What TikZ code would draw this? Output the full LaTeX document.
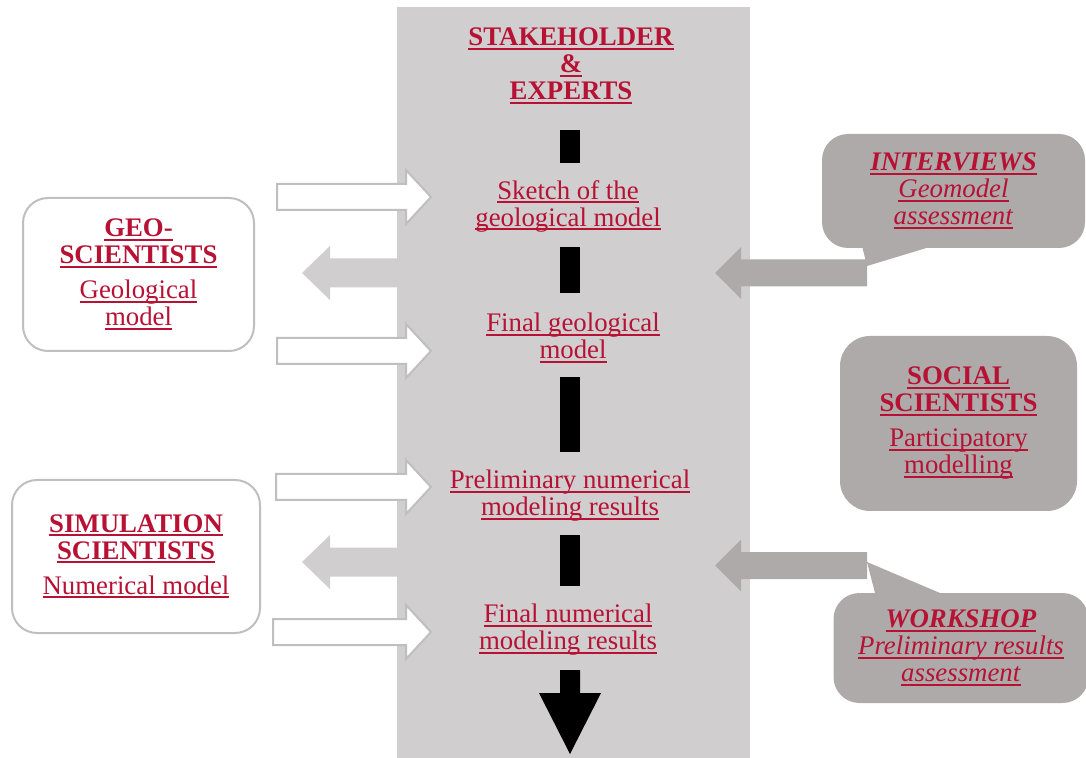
\documentclass[tikz,border=0pt]{standalone}
\usepackage{fontspec}
\setmainfont{Liberation Serif}
\usepackage{xcolor}
\usepackage{tikz}
\usetikzlibrary{positioning}

\definecolor{wine}{RGB}{183,17,52}
\definecolor{panelgray}{RGB}{208,206,207}
\definecolor{darkgray}{RGB}{174,170,170}
\definecolor{linegray}{RGB}{191,191,191}

\newsavebox{\ulbox}
\newcommand{\ul}[1]{\sbox{\ulbox}{#1}\rlap{\rule[-2pt]{\wd\ulbox}{1pt}}\usebox{\ulbox}}

\begin{document}
\begin{tikzpicture}[x=0.5pt,y=-0.5pt]

\tikzset{txt/.style={align=center, text=wine, inner sep=0pt, font=\fontsize{13.4}{13.5}\selectfont},
scibox/.style={txt, rounded corners=12.5pt, draw=linegray, line width=1pt, fill=white},
talkbox/.style={txt, rounded corners=13pt, fill=darkgray}}

\useasboundingbox (0,0) rectangle (1086,758);

%the stakeholder column
\fill[panelgray] (397,7) rectangle (750,758);

\node[txt] (title) at (571,66) {\ul{\textbf{STAKEHOLDER}}\\\ul{\textbf{\&}}\\\ul{\textbf{EXPERTS}}};
\node[txt] (sketch) at (568,206) {\ul{Sketch of the}\\\ul{geological model}};
\node[txt] (finalgeo) at (573,338) {\ul{Final geological}\\\ul{model}};
\node[txt] (prelim) at (570,496) {\ul{Preliminary numerical}\\\ul{modeling results}};
\node[txt] (finalnum) at (568,630) {\ul{Final numerical}\\\ul{modeling results}};

\foreach \a/\b in {130/163, 247/293, 377/452, 535/586}
  \fill[black] (560,\a) rectangle (580,\b);

\fill[black] (560,670) -- (580,670) -- (580,693) -- (601,693) -- (570,754) -- (539,693) -- (560,693) -- cycle;

%scientists on the left
\node[scibox, minimum width=115.5pt, minimum height=76.5pt] (geo) at (138.5,274.5)
  {\ul{\textbf{GEO-}}\\\ul{\textbf{SCIENTISTS}}\\[4pt]\ul{Geological}\\\ul{model}};
\node[scibox, minimum width=124pt, minimum height=76.5pt] (sim) at (136,556.5)
  {\ul{\textbf{SIMULATION}}\\\ul{\textbf{SCIENTISTS}}\\[4pt]\ul{Numerical model}};

\tikzstyle{inArrow} = [fill=white, draw=linegray, line width=1pt]
\tikzstyle{outArrow} = [fill=panelgray]
\tikzstyle{talkArrow} = [fill=darkgray]

\foreach \s/\c in {277/197, 277/351, 276/487, 273/632}
  \draw[inArrow] (\s,\c-13) -- (406,\c-13) -- (406,\c-27) -- (431,\c) -- (406,\c+27) -- (406,\c+13) -- (\s,\c+13) -- cycle;

\foreach \c in {273, 562}
  \fill[outArrow] (397,\c-14.5) -- (330,\c-14.5) -- (330,\c-27) -- (302,\c) -- (330,\c+27) -- (330,\c+14.5) -- (397,\c+14.5) -- cycle;

%the social scientists side
\node[talkbox, minimum width=131.5pt, minimum height=57pt] (interviews) at (953.5,191)
  {\ul{\textbf{\textit{INTERVIEWS}}}\\\ul{\textit{Geomodel}}\\\ul{\textit{assessment}}};
\node[talkbox, rounded corners=15pt, minimum width=118.5pt, minimum height=87.5pt] (social) at (958.5,423.5)
  {\ul{\textbf{SOCIAL}}\\\ul{\textbf{SCIENTISTS}}\\[4pt]\ul{Participatory}\\\ul{modelling}};
\node[talkbox, minimum width=127.5pt, minimum height=55pt] (workshop) at (961,648)
  {\ul{\textbf{\textit{WORKSHOP}}}\\\ul{\textit{Preliminary results}}\\\ul{\textit{assessment}}};

\fill[talkArrow] (862,246) -- (933,246) -- (867,266) -- cycle;
\fill[talkArrow] (875,593) -- (940,593) -- (867,562) -- cycle;

\foreach \c in {273, 565.5}
  \fill[talkArrow] (867,\c-13.5) -- (741,\c-13.5) -- (741,\c-26) -- (715,\c) -- (741,\c+26) -- (741,\c+13.5) -- (867,\c+13.5) -- cycle;

\end{tikzpicture}
\end{document}
